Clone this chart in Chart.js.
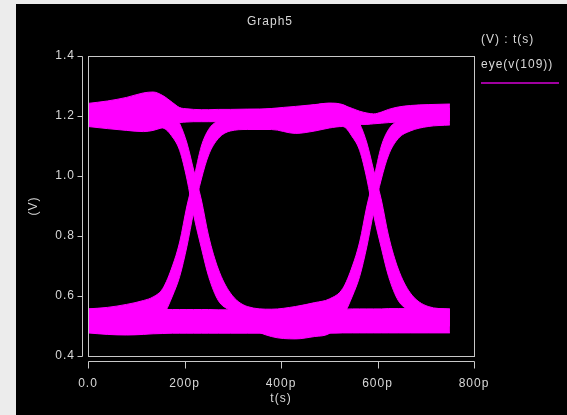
<!DOCTYPE html>
<html>
<head>
<meta charset="utf-8">
<script src="https://cdn.jsdelivr.net/npm/chart.js@4.4.1/dist/chart.umd.min.js"></script>
<style>
  html, body { margin: 0; padding: 0; background: #ececec; }
  #wrap { width: 567px; height: 415px; }
</style>
</head>
<body>
<div id="wrap"><canvas id="graph5" width="567" height="415"></canvas></div>
<script>
// instantes (ps) comuns a todos os traços
const times = [0, 40, 80, 115, 135, 155, 175, 190, 205, 219, 235, 250, 270, 295, 330, 380, 430, 470, 500, 528, 548, 563, 578, 592, 608, 623, 643, 668, 705, 750];

// envoltórias por padrão de bits (V)
const hhhUpper = [1.242, 1.25, 1.262, 1.277, 1.28, 1.268, 1.245, 1.228, 1.224, 1.222, 1.221, 1.221, 1.222, 1.222, 1.223, 1.224, 1.228, 1.237, 1.242, 1.236, 1.225, 1.216, 1.21, 1.207, 1.213, 1.222, 1.23, 1.235, 1.238, 1.24];
const hhhLower = [1.165, 1.158, 1.152, 1.148, 1.152, 1.162, 1.172, 1.178, 1.18, 1.181, 1.181, 1.181, 1.181, 1.18, 1.18, 1.18, 1.18, 1.18, 1.18, 1.178, 1.175, 1.172, 1.172, 1.174, 1.176, 1.178, 1.18, 1.182, 1.184, 1.185];
const lllUpper = [0.557, 0.557, 0.556, 0.556, 0.555, 0.555, 0.555, 0.555, 0.555, 0.555, 0.555, 0.555, 0.554, 0.554, 0.553, 0.553, 0.554, 0.555, 0.556, 0.556, 0.557, 0.557, 0.557, 0.557, 0.557, 0.558, 0.558, 0.558, 0.558, 0.557];
const lllLower = [0.477, 0.472, 0.47, 0.472, 0.474, 0.475, 0.476, 0.476, 0.476, 0.476, 0.476, 0.476, 0.476, 0.476, 0.476, 0.476, 0.476, 0.476, 0.476, 0.477, 0.477, 0.477, 0.477, 0.477, 0.477, 0.477, 0.477, 0.477, 0.477, 0.477];
const hlhUpper = [1.235, 1.24, 1.245, 1.25, 1.25, 1.24, 1.215, 1.175, 1.11, 1.02, 0.92, 0.8, 0.69, 0.61, 0.565, 0.556, 0.565, 0.578, 0.59, 0.625, 0.7, 0.78, 0.9, 0.99, 1.1, 1.155, 1.185, 1.2, 1.215, 1.225];
const hlhLower = [1.17, 1.165, 1.16, 1.16, 1.162, 1.16, 1.13, 1.085, 0.99, 0.87, 0.76, 0.665, 0.585, 0.55, 0.5, 0.465, 0.457, 0.465, 0.475, 0.53, 0.6, 0.665, 0.765, 0.88, 0.99, 1.07, 1.125, 1.15, 1.165, 1.17];
const lhlUpper = [0.557, 0.562, 0.572, 0.585, 0.597, 0.625, 0.7, 0.78, 0.9, 0.99, 1.1, 1.155, 1.185, 1.2, 1.215, 1.225, 1.232, 1.238, 1.243, 1.238, 1.215, 1.175, 1.11, 1.02, 0.92, 0.8, 0.69, 0.61, 0.565, 0.556];
const lhlLower = [0.48, 0.475, 0.475, 0.48, 0.49, 0.53, 0.6, 0.665, 0.765, 0.88, 0.99, 1.07, 1.125, 1.15, 1.155, 1.155, 1.142, 1.15, 1.16, 1.165, 1.13, 1.085, 0.99, 0.87, 0.76, 0.665, 0.585, 0.55, 0.52, 0.5];

// eixos
const xTicks = [0, 200, 400, 600, 800];
const xTickLabels = ['0.0', '200p', '400p', '600p', '800p'];
const yTicks = [0.4, 0.6, 0.8, 1.0, 1.2, 1.4];
const yTickLabels = ['0.4', '0.6', '0.8', '1.0', '1.2', '1.4'];

const FONTE = 'Liberation Sans, Arial, sans-serif';
const TEXTO = '#d8d8d8';
const MAGENTA = '#ff00ff';

function trace(values) {
    return times.map((t, i) => ({ x: t, y: values[i] }));
}

const envelopes = [
    ['HHH', hhhUpper, hhhLower],
    ['LLL', lllUpper, lllLower],
    ['HLH', hlhUpper, hlhLower],
    ['LHL', lhlUpper, lhlLower]
];

const datasets = envelopes.flatMap(([nome, sup, inf]) => [
    { label: nome, data: trace(sup), fill: '+1' },
    { label: nome, data: trace(inf), fill: false }
].map(ds => Object.assign(ds, {
    borderColor: MAGENTA,
    backgroundColor: MAGENTA,
    borderWidth: 1,
    pointRadius: 0,
    cubicInterpolationMode: 'monotone'
})));

const molduraGraph5 = {
    id: 'molduraGraph5',
    beforeDraw(chart) {
        const ctx = chart.ctx;
        ctx.save();
        ctx.fillStyle = '#ececec';
        ctx.fillRect(0, 0, chart.width, chart.height);
        ctx.fillStyle = '#000';
        ctx.fillRect(16, 4, chart.width - 16, chart.height - 4);
        ctx.restore();
        ctx.letterSpacing = '1px';
    },
    afterDraw(chart) {
        const { ctx, chartArea: a, scales: { x, y } } = chart;
        ctx.save();
        ctx.strokeStyle = '#c8c8c8';
        ctx.lineWidth = 1;
        ctx.strokeRect(a.left + 0.5, a.top + 0.5, a.right - a.left, a.bottom - a.top);

        // eixos deslocados da moldura
        ctx.beginPath();
        const ax = a.left - 5.5;
        ctx.moveTo(ax, Math.round(y.getPixelForValue(yTicks[0])) + 0.5);
        ctx.lineTo(ax, Math.round(y.getPixelForValue(yTicks[yTicks.length - 1])) + 0.5);
        yTicks.forEach(v => {
            const py = Math.round(y.getPixelForValue(v)) + 0.5;
            ctx.moveTo(ax - 5, py);
            ctx.lineTo(ax, py);
        });
        const ay = a.bottom + 5.5;
        ctx.moveTo(Math.round(x.getPixelForValue(xTicks[0])) + 0.5, ay);
        ctx.lineTo(Math.round(x.getPixelForValue(xTicks[xTicks.length - 1])) + 0.5, ay);
        xTicks.forEach(v => {
            const px = Math.round(x.getPixelForValue(v)) + 0.5;
            ctx.moveTo(px, ay);
            ctx.lineTo(px, ay + 7);
        });
        ctx.stroke();

        // título e legenda
        ctx.font = '12px ' + FONTE;
        ctx.fillStyle = TEXTO;
        ctx.textBaseline = 'middle';
        ctx.textAlign = 'center';
        ctx.fillText('Graph5', 270, 22);
        ctx.textAlign = 'left';
        ctx.fillText('(V) : t(s)', 481, 40);
        ctx.fillText('eye(v(109))', 481, 65);
        ctx.strokeStyle = '#a000a0';
        ctx.lineWidth = 2;
        ctx.beginPath();
        ctx.moveTo(481, 83);
        ctx.lineTo(559, 83);
        ctx.stroke();
        ctx.restore();
    }
};

new Chart(document.getElementById('graph5'), {
    type: 'line',
    data: { datasets },
    options: {
        responsive: false,
        animation: false,
        layout: { padding: { left: 0, right: 93, top: 56, bottom: 0 } },
        plugins: {
            legend: { display: false },
            tooltip: { enabled: false }
        },
        scales: {
            x: {
                type: 'linear',
                min: 0,
                max: 800,
                afterFit: s => { s.height = 59; },
                afterBuildTicks: s => { s.ticks = xTicks.map(v => ({ value: v })); },
                grid: { display: false, drawTicks: false },
                border: { display: false },
                ticks: {
                    color: TEXTO,
                    font: { family: FONTE, size: 12 },
                    padding: 20,
                    maxRotation: 0,
                    callback: (v, i) => xTickLabels[i]
                },
                title: {
                    display: true,
                    text: 't(s)',
                    color: TEXTO,
                    font: { family: FONTE, size: 12 },
                    padding: { top: 0, bottom: 9 }
                }
            },
            y: {
                type: 'linear',
                min: 0.4,
                max: 1.4,
                afterFit: s => { s.width = 88; },
                afterBuildTicks: s => { s.ticks = yTicks.map(v => ({ value: v })); },
                grid: { display: false, drawTicks: false },
                border: { display: false },
                ticks: {
                    color: TEXTO,
                    font: { family: FONTE, size: 12 },
                    padding: 13,
                    callback: (v, i) => yTickLabels[i]
                },
                title: {
                    display: true,
                    text: '(V)',
                    color: TEXTO,
                    font: { family: FONTE, size: 12 },
                    padding: { top: 26, bottom: 0 }
                }
            }
        }
    },
    plugins: [molduraGraph5]
});
</script>
</body>
</html>
